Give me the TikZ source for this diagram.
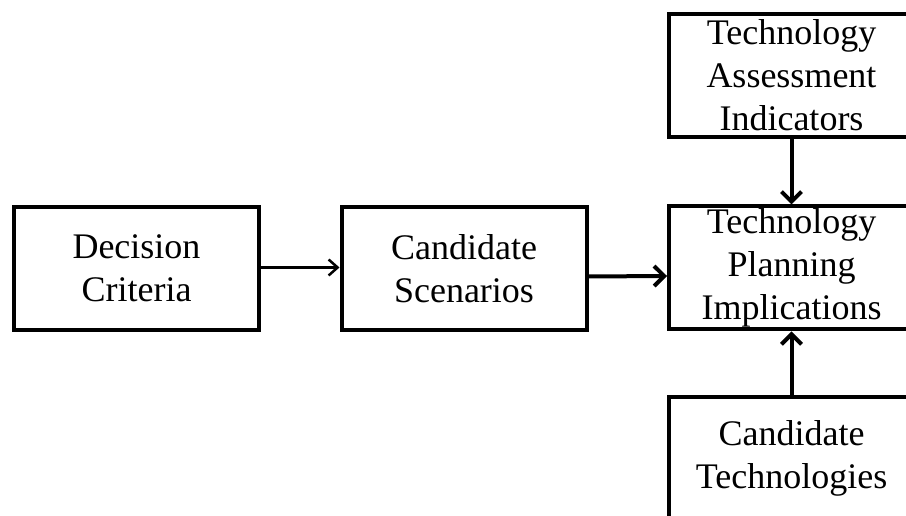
\documentclass[tikz,border=0pt]{standalone}
\usepackage{fontspec}
\setmainfont{Liberation Serif}
\usetikzlibrary{arrows.meta}

\tikzset{
    box/.style={draw, line width=4pt, minimum width=245pt, minimum height=123pt,
        inner sep=0pt, align=center, font=\fontsize{36}{43}\selectfont},
    flow/.style={line width=4pt, -{Straight Barb[length=10pt,width=20pt,line width=4pt]}},
    thinflow/.style={line width=2.5pt, -{Straight Barb[length=9pt,width=16pt,line width=2.5pt]}}
}

\begin{document}
\begin{tikzpicture}[x=1pt,y=1pt]

% ===== Rahmen =====
\useasboundingbox (0,0) rectangle (906,516);
\clip (0,0) rectangle (906,516);

% ===== Kaesten =====
\node[box] (crit) at (136.5,247.5) {Decision\\Criteria};
\node[box] (scen) at (464,247.5) {Candidate\\Scenarios};
\node[box] (impl) at (791.5,248) {Technology\\Planning\\Implications};
\node[box] (indi) at (791.5,440.5) {Technology\\Assessment\\Indicators};
\node[box] (tech) at (791.5,57.5) {Candidate\\Technologies};

% ===== Pfeile =====
\draw[thinflow] ([yshift=1pt]crit.east) -- ([yshift=1pt]scen.west);
\draw[flow] ([yshift=-8pt]scen.east) -- ([yshift=-8pt]impl.west);
\draw[flow] (indi.south) -- (impl.north);
\draw[flow] (tech.north) -- (impl.south);

\end{tikzpicture}
\end{document}
